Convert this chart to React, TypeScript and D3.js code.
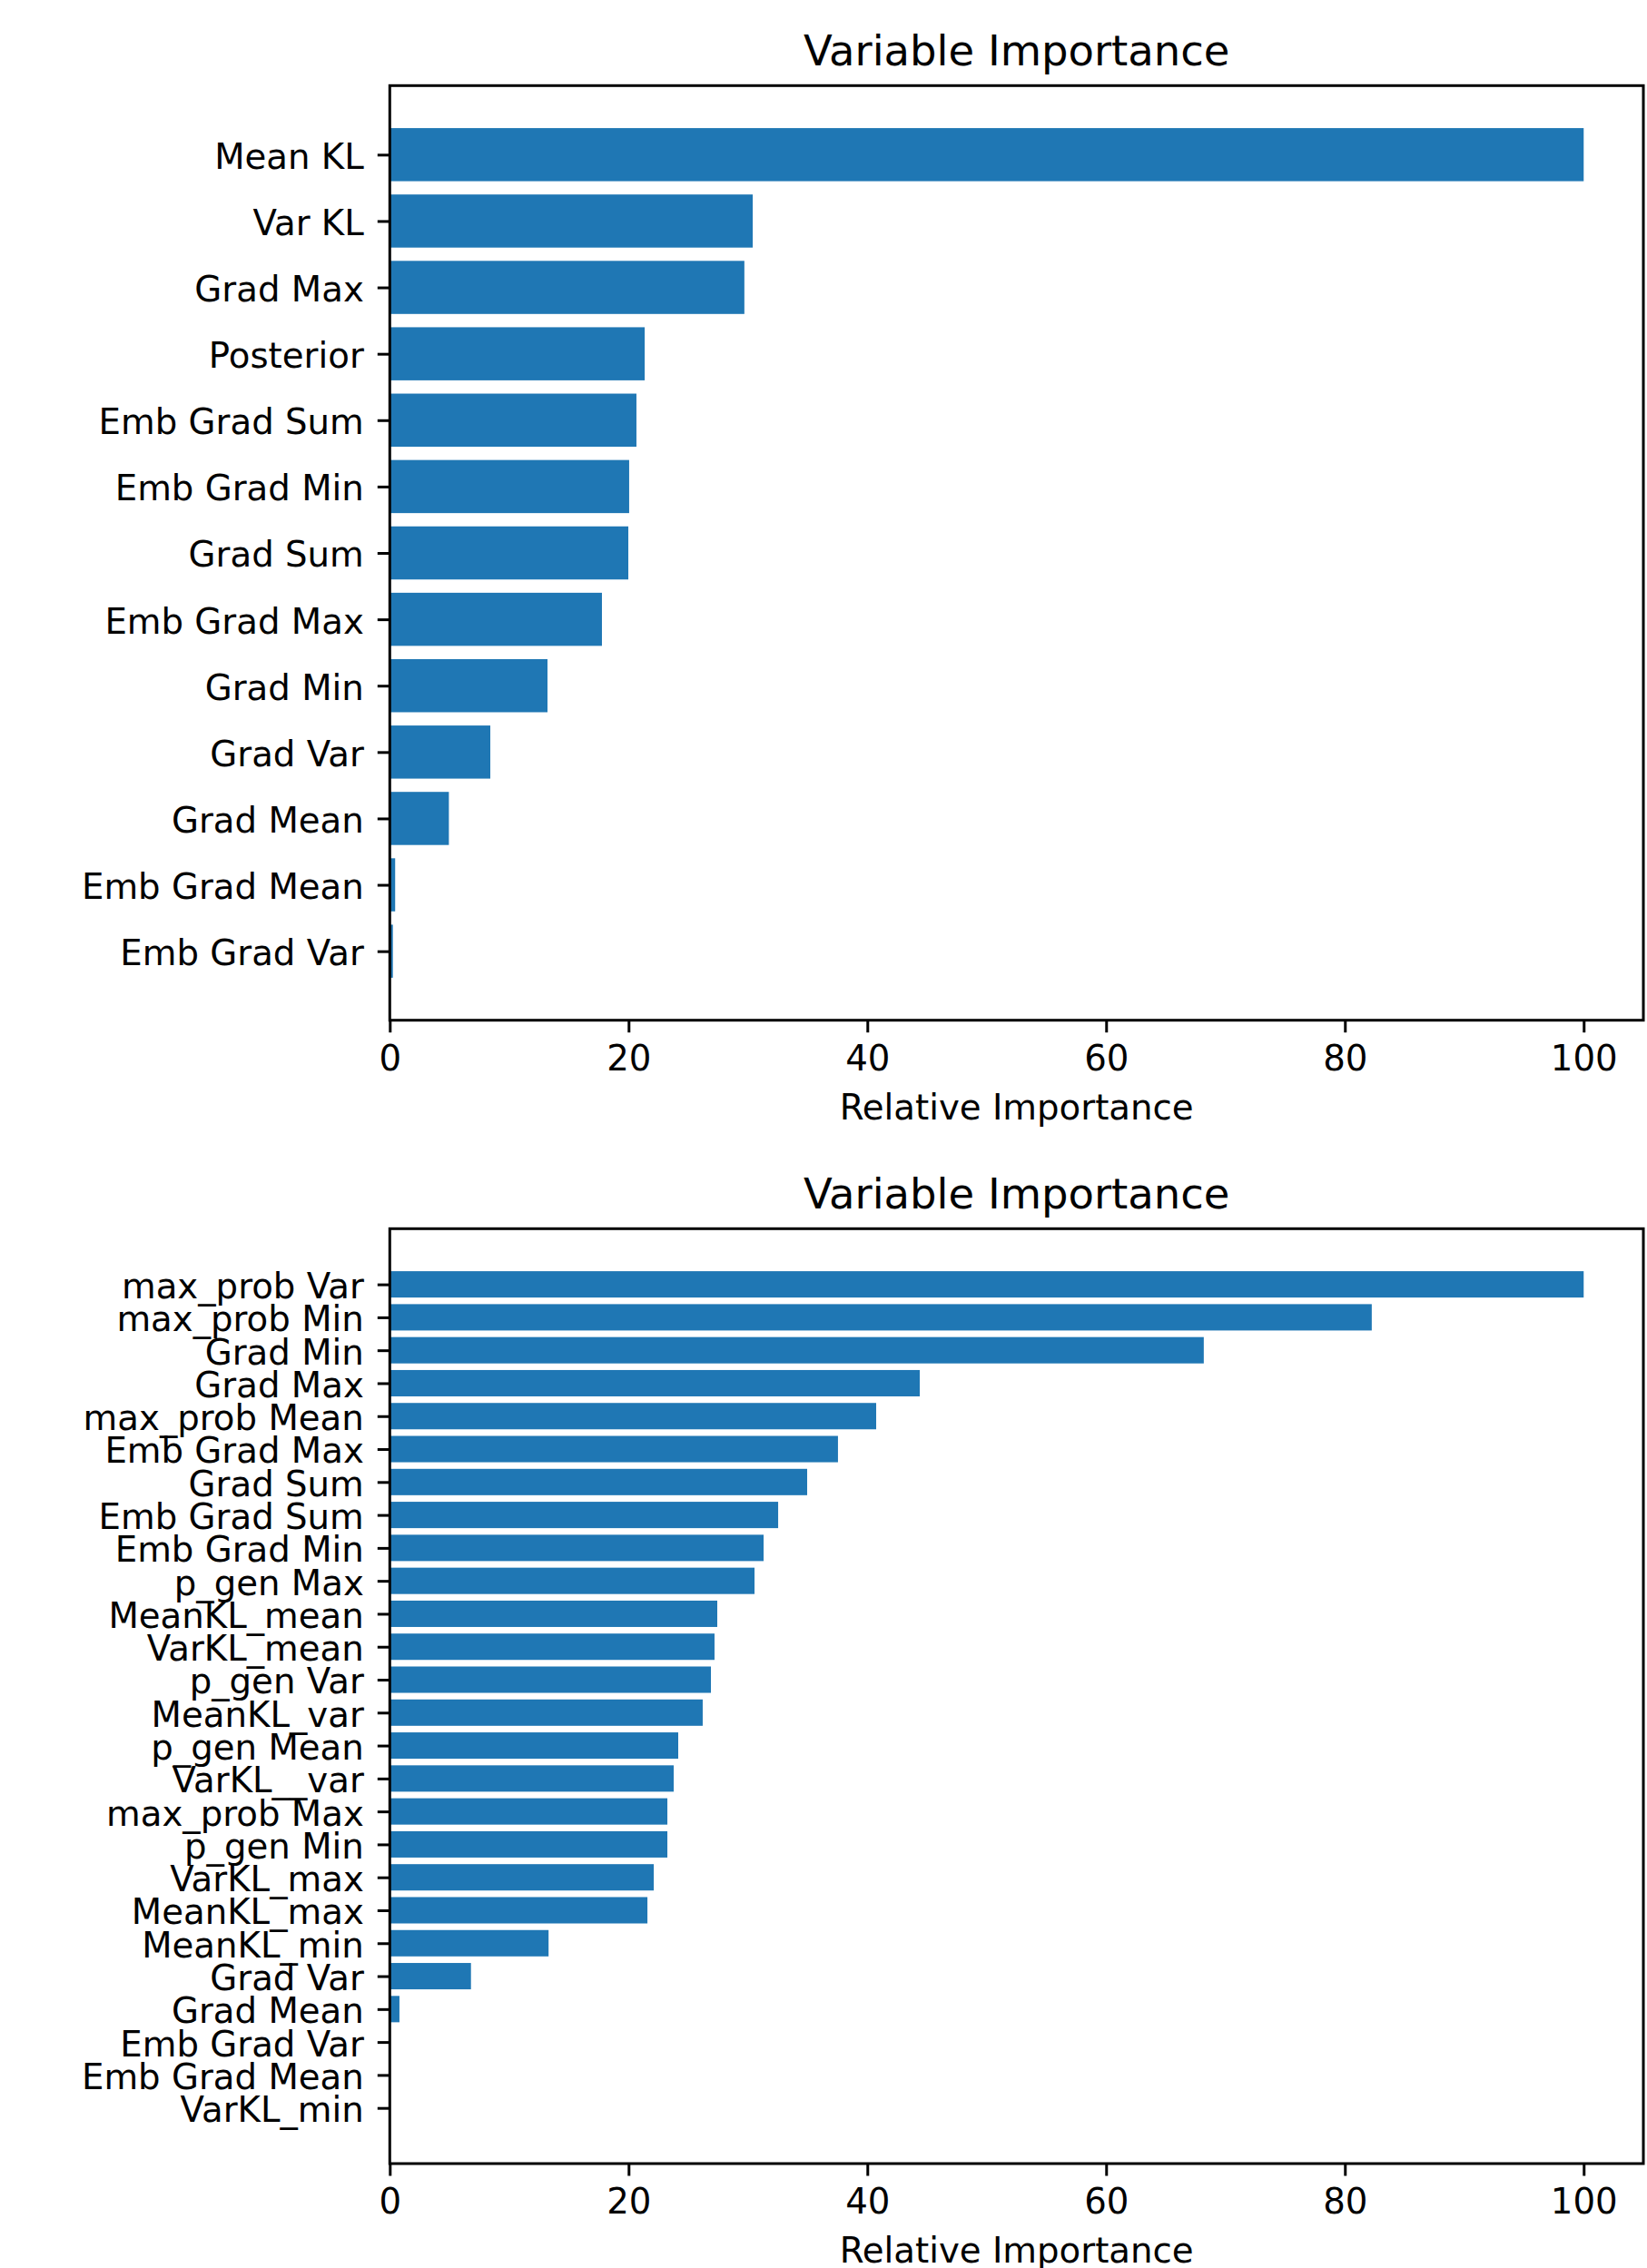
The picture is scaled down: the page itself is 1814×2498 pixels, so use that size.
import React, { useRef, useEffect } from 'react';
import * as d3 from 'd3';

// data (relative importance, top bar first)
const topLabels = [
  'Mean KL', 'Var KL', 'Grad Max', 'Posterior', 'Emb Grad Sum', 'Emb Grad Min',
  'Grad Sum', 'Emb Grad Max', 'Grad Min', 'Grad Var', 'Grad Mean', 'Emb Grad Mean', 'Emb Grad Var',
];
const topValues = [100, 30.4, 29.7, 21.35, 20.66, 20.05, 19.98, 17.77, 13.21, 8.42, 4.95, 0.45, 0.26];

const bottomLabels = [
  'max_prob Var', 'max_prob Min', 'Grad Min', 'Grad Max', 'max_prob Mean', 'Emb Grad Max',
  'Grad Sum', 'Emb Grad Sum', 'Emb Grad Min', 'p_gen Max', 'MeanKL_mean', 'VarKL_mean',
  'p_gen Var', 'MeanKL_var', 'p_gen Mean', 'VarKL__var', 'max_prob Max', 'p_gen Min',
  'VarKL_max', 'MeanKL_max', 'MeanKL_min', 'Grad Var', 'Grad Mean', 'Emb Grad Var',
  'Emb Grad Mean', 'VarKL_min',
];
const bottomValues = [
  100, 82.25, 68.18, 44.39, 40.74, 37.54, 34.96, 32.53, 31.31, 30.55, 27.43, 27.2,
  26.9, 26.21, 24.16, 23.78, 23.25, 23.25, 22.11, 21.58, 13.3, 6.8, 0.81, 0, 0, 0,
];

const xTicks = [0, 20, 40, 60, 80, 100];
const xDomain = [0, 105];

const W = 1814;
const H = 2498;
const BLUE = '#1f77b4';
const FONT = '"DejaVu Sans", sans-serif';
const TICK_FS = 38.7;
const TITLE_FS = 46.5;
const LW = 3;

const drawPanel = (
  svg: d3.Selection<SVGSVGElement, unknown, null, undefined>,
  labels: string[],
  values: number[],
  top: number,
  bottom: number,
) => {
  const left = 429.3;
  const right = 1810;
  const n = labels.length;
  const m = 0.05 * (n - 0.2); // matplotlib default 5% margin
  const x = d3.scaleLinear().domain(xDomain).range([left, right]);
  const y = d3.scaleLinear().domain([-0.4 - m, n - 0.6 + m]).range([top, bottom]);
  const bh = y(0.8) - y(0);

  const g = svg.append('g');

  g.selectAll('rect.bar')
    .data(values)
    .enter()
    .append('rect')
    .attr('class', 'bar')
    .attr('x', x(0))
    .attr('y', (_, i) => y(i) - bh / 2)
    .attr('width', d => x(d) - x(0))
    .attr('height', bh)
    .attr('fill', BLUE);

  // x axis
  const ax = g.append('g')
    .attr('transform', `translate(0,${bottom})`)
    .call(d3.axisBottom(x).tickValues(xTicks).tickSize(13.5).tickSizeOuter(0).tickPadding(14));
  // y axis
  const ay = g.append('g')
    .attr('transform', `translate(${left},0)`)
    .call(
      d3.axisLeft(y)
        .tickValues(d3.range(n))
        .tickFormat(i => labels[i as number])
        .tickSize(13.5)
        .tickSizeOuter(0)
        .tickPadding(15),
    );

  [ax, ay].forEach(a => {
    a.select('.domain').remove();
    a.selectAll('.tick line').attr('stroke', '#000').attr('stroke-width', LW);
    a.selectAll('.tick text')
      .attr('fill', '#000')
      .style('font-family', FONT)
      .style('font-size', `${TICK_FS}px`);
  });
  ay.selectAll('.tick text').attr('dy', '0.385em');

  // spines
  g.append('rect')
    .attr('x', left)
    .attr('y', top)
    .attr('width', right - left)
    .attr('height', bottom - top)
    .attr('fill', 'none')
    .attr('stroke', '#000')
    .attr('stroke-width', LW);

  g.append('text')
    .attr('x', (left + right) / 2)
    .attr('y', top - 22.5)
    .attr('text-anchor', 'middle')
    .style('font-family', FONT)
    .style('font-size', `${TITLE_FS}px`)
    .text('Variable Importance');

  g.append('text')
    .attr('x', (left + right) / 2)
    .attr('y', bottom + 109)
    .attr('text-anchor', 'middle')
    .style('font-family', FONT)
    .style('font-size', `${TICK_FS}px`)
    .text('Relative Importance');
};

export default function App() {
  const ref = useRef<SVGSVGElement | null>(null);

  useEffect(() => {
    if (!ref.current) return;
    const svg = d3.select(ref.current);
    svg.selectAll('*').remove();
    drawPanel(svg, topLabels, topValues, 94.3, 1123.7);
    drawPanel(svg, bottomLabels, bottomValues, 1353.3, 2383);
  }, []);

  return (
    <svg
      ref={ref}
      width={W}
      height={H}
      style={{ position: 'absolute', left: 0, top: 0, background: '#fff' }}
    />
  );
}
